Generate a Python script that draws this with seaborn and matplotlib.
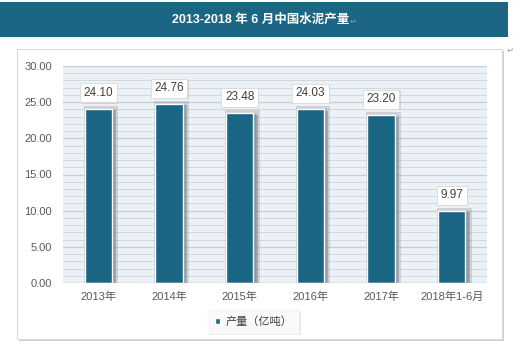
import matplotlib
matplotlib.use("Agg")
import matplotlib.pyplot as plt
import matplotlib.patheffects as pe
from matplotlib.patches import Rectangle, FancyBboxPatch
from matplotlib.ticker import MultipleLocator, FormatStrFormatter
import seaborn as sns
import pandas as pd

categories = ["2013年", "2014年", "2015年", "2016年", "2017年", "2018年1-6月"]
output_values = [24.10, 24.76, 23.48, 24.03, 23.20, 9.97]
series_name = "产量（亿吨）"
title_text = "2013-2018 年 6 月中国水泥产量"

sns.set_theme(style="white")
plt.rcParams["font.family"] = ["Liberation Sans", "Noto Sans CJK SC", "DejaVu Sans"]

W, H = 520, 347
fig = plt.figure(figsize=(W / 100, H / 100), dpi=100)
fig.patch.set_facecolor("white")

# title bar
fig.patches.append(Rectangle((0, 1 - 37 / H), 508 / W, 35 / H, transform=fig.transFigure,
                             facecolor="#1b6585", edgecolor="none", zorder=-2))
fig.text(261 / W, 1 - 20 / H, title_text, color="white", fontsize=9, fontweight="bold",
         ha="center", va="center", family=["Liberation Sans", "Noto Sans CJK SC"])
fig.text(350 / W, 1 - 21 / H, "↵", color="#9a9a9a", fontsize=6, ha="left", va="center",
         family=["DejaVu Sans"])

# outer chart box with shadow
box = FancyBboxPatch((17 / W, 1 - 339 / H), 485 / W, 290 / H, transform=fig.transFigure,
                     boxstyle="square,pad=0", facecolor="white", edgecolor="#d8d8d8",
                     linewidth=0.8, zorder=-2)
box.set_path_effects([pe.SimplePatchShadow(offset=(1.5, -1.5), shadow_rgbFace="#b0b0b0", alpha=0.6),
                      pe.Normal()])
fig.patches.append(box)
fig.text(510 / W, 1 - 50 / H, "↵", color="#9a9a9a", fontsize=6, ha="center", va="center",
         family=["DejaVu Sans"])

ax = fig.add_axes([63 / W, 1 - 283 / H, (487 - 63) / W, (283 - 66) / H])
ax.set_facecolor("#eaf1f7")

df = pd.DataFrame({"cat": categories, "val": output_values, "series": series_name})
sns.barplot(data=df, x="cat", y="val", hue="series", palette=["#1b6585"], width=0.39,
            ax=ax, saturation=1, legend=True)

ax.set_ylim(0, 30)
ax.yaxis.set_major_locator(MultipleLocator(5))
ax.yaxis.set_minor_locator(MultipleLocator(1))
ax.yaxis.set_major_formatter(FormatStrFormatter("%.2f"))
ax.grid(which="major", axis="y", color="#c9ced3", linewidth=0.9, zorder=0)
ax.grid(which="minor", axis="y", color="#d3d8dc", linewidth=0.7, zorder=0)
ax.set_axisbelow(True)
for s in ax.spines.values():
    s.set_visible(False)
ax.axhline(0, color="#c0c4c8", linewidth=1, zorder=4)

ax.set_xlabel("")
ax.set_ylabel("")
ax.tick_params(axis="y", which="both", length=0, labelsize=8, labelcolor="#595959", pad=8)
ax.tick_params(axis="x", length=0, labelsize=8, labelcolor="#595959", pad=6)
for lab in ax.get_xticklabels():
    lab.set_family(["Liberation Sans", "Noto Sans CJK SC"])

# legend first (before bar effects so the handle stays clean)
ax.legend_.remove()
handles, labels = ax.get_legend_handles_labels()
leg = fig.legend(handles, labels, loc="center", bbox_to_anchor=(254 / W, 1 - 322 / H),
                 frameon=True, handlelength=0.45, handleheight=0.45,
                 handletextpad=0.5, borderpad=0.6, fancybox=False,
                 prop={"family": ["Noto Sans CJK SC"], "size": 8})
leg.get_frame().set_edgecolor("#eeeeee")
leg.get_frame().set_linewidth(0.6)
leg.get_frame().set_path_effects([pe.SimplePatchShadow(offset=(1, -1), shadow_rgbFace="#cccccc", alpha=0.5),
                                  pe.Normal()])
for t in leg.get_texts():
    t.set_color("#404040")
for h in leg.legend_handles:
    h.set_path_effects([])

for bar in ax.patches:
    bar.set_path_effects([
        pe.Stroke(linewidth=5, foreground="#9a9a9a", alpha=0.35, offset=(1.5, 0)),
        pe.SimplePatchShadow(offset=(3, -1), shadow_rgbFace="#7a7a7a", alpha=0.45),
        pe.Normal()])
    bar.set_zorder(3)

for cont in ax.containers:
    texts = ax.bar_label(cont, labels=[f"{v:.2f}" for v in output_values], padding=7,
                         fontsize=8.5, color="#404040",
                         bbox=dict(boxstyle="square,pad=0.3", facecolor="white",
                                   edgecolor="#d9d9d9", linewidth=0.6))
    for t in texts:
        t.get_bbox_patch().set_path_effects([
            pe.SimplePatchShadow(offset=(1, -1), shadow_rgbFace="#bbbbbb", alpha=0.5), pe.Normal()])

fig.savefig("out.png", dpi=100, facecolor="white")
